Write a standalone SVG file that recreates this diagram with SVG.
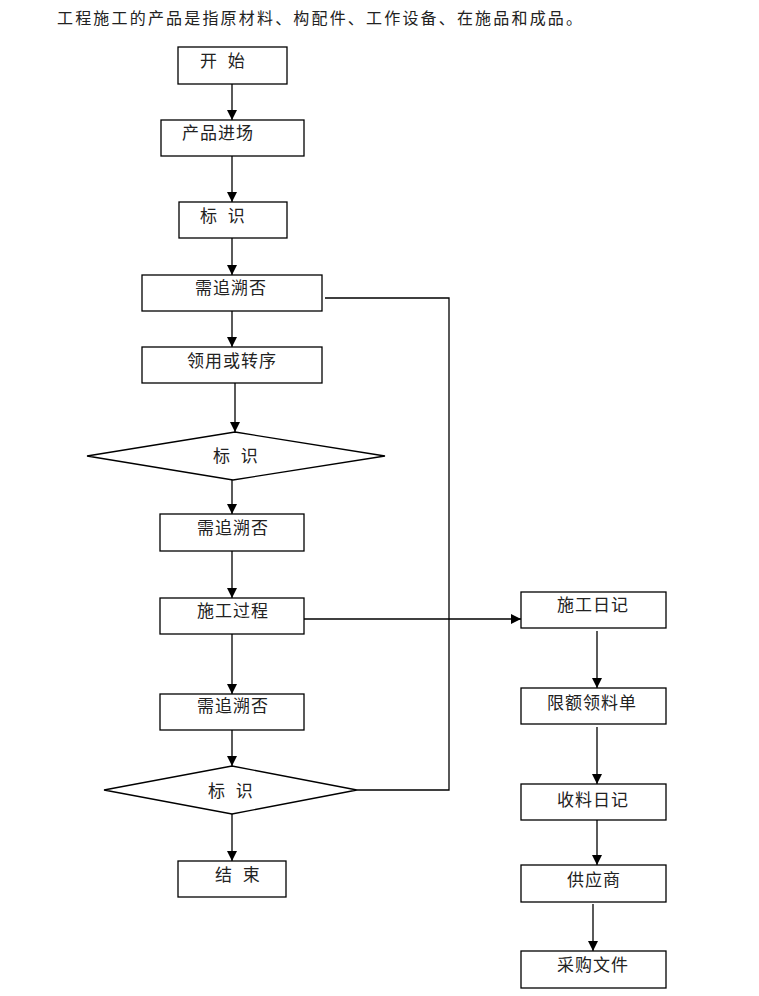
<svg xmlns="http://www.w3.org/2000/svg" width="759" height="996" viewBox="0 0 759 996">
<style>
.bg{fill:#fff}
.box{fill:#fff;stroke:#000;stroke-width:1.3}
.lbl{font-family:"Noto Sans CJK SC","Noto Sans CJK JP",sans-serif;font-size:17px;fill:#222;letter-spacing:1px}
.sp{word-spacing:5px}
.title{font-family:"Noto Sans CJK SC","Noto Sans CJK JP",sans-serif;font-size:16px;fill:#222}
.ln{fill:none;stroke:#000;stroke-width:1.3}
</style>
<defs>
<marker id="ah" markerUnits="userSpaceOnUse" markerWidth="10" markerHeight="12" refX="10" refY="5" orient="auto">
<path d="M0,0 L10,5 L0,10 Z" fill="#000"/>
</marker>
</defs>
<rect class="bg" x="0" y="0" width="759" height="996"/>
<text class="title" x="57" y="24" textLength="525" lengthAdjust="spacing">工程施工的产品是指原材料、构配件、工作设备、在施品和成品。</text>

<g id="connectors">
<line class="ln" x1="232" y1="84" x2="232" y2="120" marker-end="url(#ah)"/>
<line class="ln" x1="232" y1="156" x2="232" y2="202" marker-end="url(#ah)"/>
<line class="ln" x1="232" y1="238" x2="232" y2="275" marker-end="url(#ah)"/>
<line class="ln" x1="232" y1="311" x2="232" y2="347" marker-end="url(#ah)"/>
<line class="ln" x1="235" y1="383" x2="235" y2="432" marker-end="url(#ah)"/>
<line class="ln" x1="232" y1="480" x2="232" y2="514" marker-end="url(#ah)"/>
<line class="ln" x1="232" y1="551" x2="232" y2="598" marker-end="url(#ah)"/>
<line class="ln" x1="232" y1="634" x2="232" y2="694" marker-end="url(#ah)"/>
<line class="ln" x1="232" y1="730" x2="232" y2="766" marker-end="url(#ah)"/>
<line class="ln" x1="232" y1="814" x2="232" y2="861" marker-end="url(#ah)"/>
<polyline class="ln" points="325,298 449,298 449,790 357,790"/>
<line class="ln" x1="304" y1="619" x2="521" y2="619" marker-end="url(#ah)"/>
<line class="ln" x1="597" y1="631" x2="597" y2="688" marker-end="url(#ah)"/>
<line class="ln" x1="597" y1="727" x2="597" y2="784" marker-end="url(#ah)"/>
<line class="ln" x1="597" y1="820" x2="597" y2="865" marker-end="url(#ah)"/>
<line class="ln" x1="593" y1="904" x2="593" y2="951" marker-end="url(#ah)"/>
</g>

<g id="start"><rect class="box" x="178" y="47" width="109" height="37"/><text class="lbl sp" x="200" y="67">开 始</text></g>
<g id="entry"><rect class="box" x="161" y="120" width="143" height="36"/><text class="lbl" x="182" y="139">产品进场</text></g>
<g id="mark1"><rect class="box" x="179" y="202" width="108" height="36"/><text class="lbl sp" x="200" y="222">标 识</text></g>
<g id="trace1"><rect class="box" x="142" y="275" width="180" height="36"/><text class="lbl" x="195" y="294">需追溯否</text></g>
<g id="use"><rect class="box" x="142" y="347" width="180" height="36"/><text class="lbl" x="187" y="367">领用或转序</text></g>
<g id="mark2"><polygon class="box" points="235,432 385,456 233,480 87,456"/><text class="lbl sp" x="213" y="462">标 识</text></g>
<g id="trace2"><rect class="box" x="160" y="514" width="144" height="37"/><text class="lbl" x="197" y="534">需追溯否</text></g>
<g id="process"><rect class="box" x="160" y="598" width="144" height="36"/><text class="lbl" x="197" y="617">施工过程</text></g>
<g id="trace3"><rect class="box" x="160" y="694" width="144" height="36"/><text class="lbl" x="197" y="712">需追溯否</text></g>
<g id="mark3"><polygon class="box" points="232,766 357,790 232,814 104,790"/><text class="lbl sp" x="208" y="797">标 识</text></g>
<g id="end"><rect class="box" x="178" y="861" width="108" height="36"/><text class="lbl sp" x="215" y="881">结 束</text></g>

<g id="log"><rect class="box" x="521" y="592" width="145" height="36"/><text class="lbl" x="557" y="611">施工日记</text></g>
<g id="quota"><rect class="box" x="521" y="688" width="145" height="36"/><text class="lbl" x="547" y="709">限额领料单</text></g>
<g id="receive"><rect class="box" x="521" y="784" width="145" height="36"/><text class="lbl" x="557" y="806">收料日记</text></g>
<g id="supplier"><rect class="box" x="521" y="865" width="145" height="37"/><text class="lbl" x="567" y="886">供应商</text></g>
<g id="purchase"><rect class="box" x="521" y="951" width="145" height="37"/><text class="lbl" x="557" y="971">采购文件</text></g>
</svg>
